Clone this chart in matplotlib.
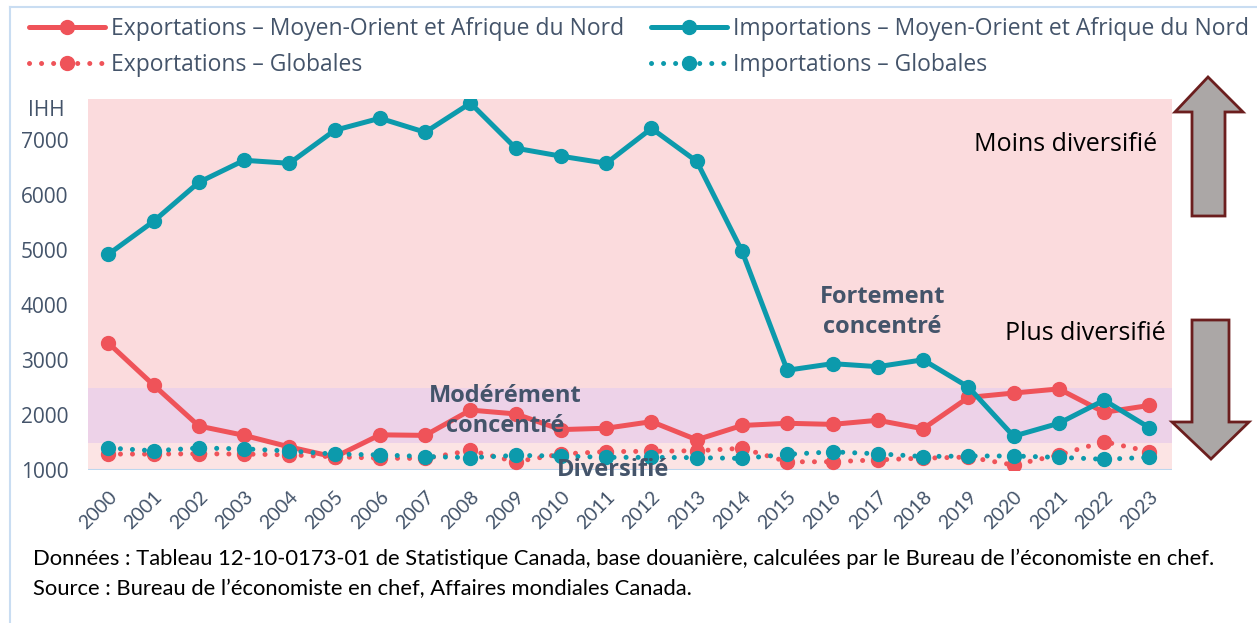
#!/usr/bin/env python3
"""IHH (Herfindahl-Hirschman) du commerce du Canada avec le Moyen-Orient et l'Afrique du Nord."""

import matplotlib

matplotlib.use("Agg")
import matplotlib.pyplot as plt
from matplotlib.lines import Line2D
from matplotlib.patches import Polygon

years = [str(y) for y in range(2000, 2024)]

exp_mena = [3310, 2545, 1800, 1630, 1420, 1235, 1640, 1630, 2090, 2020, 1735, 1760,
            1880, 1550, 1810, 1850, 1830, 1905, 1750, 2320, 2400, 2475, 2050, 2175]
imp_mena = [4925, 5525, 6235, 6635, 6580, 7180, 7400, 7145, 7675, 6855, 6710, 6580,
            7215, 6615, 4980, 2815, 2935, 2880, 3005, 2510, 1615, 1850, 2270, 1770]
exp_global = [1290, 1290, 1295, 1290, 1275, 1240, 1215, 1210, 1355, 1150, 1290, 1335,
              1340, 1350, 1395, 1150, 1150, 1185, 1215, 1235, 1090, 1275, 1515, 1335]
imp_global = [1400, 1350, 1400, 1385, 1345, 1290, 1275, 1245, 1225, 1265, 1255, 1230,
              1230, 1225, 1210, 1285, 1330, 1295, 1245, 1255, 1255, 1230, 1195, 1230]

# seuils des zones de concentration (IHH)
band_edges = [1000, 1500, 2500, 7750]
band_names = ["Diversifié", "Modérément\nconcentré", "Fortement\nconcentré"]

RED = "#EF5359"
TEAL = "#0C9AAC"
SLATE = "#44546A"
BAND_COLORS = ["#FCE4E4", "#EDD2E8", "#FBDBDD"]

W, H = 1257, 623
fig = plt.figure(figsize=(W / 100, H / 100), dpi=100)


def fx(px):
    return px / W


def fy(py):
    return 1 - py / H


ax = fig.add_axes([fx(88), fy(470), fx(1172) - fx(88), fy(99) - fy(470)])
x = list(range(len(years)))

for lo, hi, col in zip(band_edges[:-1], band_edges[1:], BAND_COLORS):
    ax.axhspan(lo, hi, color=col, zorder=0, lw=0)
ax.axhline(band_edges[0], color="#BDD7EE", lw=1.5, zorder=1)

line_kw = dict(lw=3.6, marker="o", ms=10, solid_capstyle="round")
dot_kw = dict(lw=3.6, marker="o", ms=10, linestyle=(0, (0.01, 2.4)), dash_capstyle="round")
l1, = ax.plot(x, exp_mena, color=RED, zorder=3, **line_kw)
l2, = ax.plot(x, imp_mena, color=TEAL, zorder=4, **line_kw)
l3, = ax.plot(x, exp_global, color=RED, zorder=5, **dot_kw)
l4, = ax.plot(x, imp_global, color=TEAL, zorder=6, **dot_kw)

ax.set_xlim(-0.45, len(years) - 0.5)
ax.set_ylim(band_edges[0], band_edges[-1])
ax.set_yticks(range(1000, 8000, 1000))
ax.set_yticklabels([str(v) for v in range(1000, 8000, 1000)], fontsize=15,
                   color=SLATE, family="Open Sans")
ax.set_xticks(x)
ax.set_xticklabels(years, rotation=45, ha="right", va="top", rotation_mode="anchor",
                   fontsize=14, color=SLATE, family=["Liberation Sans Narrow", "Lato"])
ax.tick_params(axis="both", length=0)
ax.tick_params(axis="y", pad=14)
ax.tick_params(axis="x", pad=13)
for side in ax.spines.values():
    side.set_visible(False)

# zone labels
band_font = dict(fontsize=17, fontweight="bold", color=SLATE, ha="center", va="center",
                 family="Open Sans", zorder=8, linespacing=1.35)
ax.text(11.15, 1005, band_names[0], **band_font)
ax.text(8.76, 2070, band_names[1], **band_font)
ax.text(17.1, 3870, band_names[2], **band_font)

side_font = dict(fontsize=18, color="black", ha="center", va="center", family="Open Sans")
fig.text(fx(1066), fy(144), "Moins diversifié", **side_font)
fig.text(fx(1085), fy(334), "Plus diversifié", **side_font)
fig.text(fx(46), fy(111), "IHH", fontsize=15, color=SLATE, ha="center", va="center",
         family="Open Sans")

# arrows
up = [(1208, 77), (1243, 112), (1225, 112), (1225, 216), (1192, 216), (1192, 112), (1175, 112)]
down = [(1192, 320), (1229, 320), (1229, 422), (1249, 422), (1211, 459), (1172, 422), (1192, 422)]
for pts in (up, down):
    fig.add_artist(Polygon([(fx(a), fy(b)) for a, b in pts], closed=True, transform=fig.transFigure,
                           facecolor="#ABA7A6", edgecolor="#6B1E1E", lw=2))

# frame lines
fig.add_artist(Line2D([fx(10), fx(10)], [fy(7), 0], color="#C9DDF2", lw=1.5, transform=fig.transFigure))
fig.add_artist(Line2D([fx(10), 1], [fy(7), fy(7)], color="#C9DDF2", lw=1.5, transform=fig.transFigure))

# legend, two columns
leg_kw = dict(loc="upper left", frameon=False, handlelength=3.3, handletextpad=0.25,
              labelspacing=0.5, numpoints=1, borderpad=0,
              prop={"family": "Open Sans", "size": 16.5}, labelcolor=SLATE)
fig.legend([l1, l3], ["Exportations – Moyen-Orient et Afrique du Nord", "Exportations – Globales"],
           bbox_to_anchor=(fx(18), fy(6)), **leg_kw)
fig.legend([l2, l4], ["Importations – Moyen-Orient et Afrique du Nord", "Importations – Globales"],
           bbox_to_anchor=(fx(640), fy(6)), **leg_kw)

note_font = dict(fontsize=15.8, color="black", ha="left", va="center",
                 family=["Liberation Sans Narrow", "Lato"])
fig.text(fx(33), fy(559), "Données : Tableau 12-10-0173-01 de Statistique Canada, base douanière, "
         "calculées par le Bureau de l’économiste en chef.", **note_font)
fig.text(fx(33), fy(589), "Source : Bureau de l’économiste en chef, Affaires mondiales Canada.", **note_font)

fig.savefig("out.png", dpi=100)
